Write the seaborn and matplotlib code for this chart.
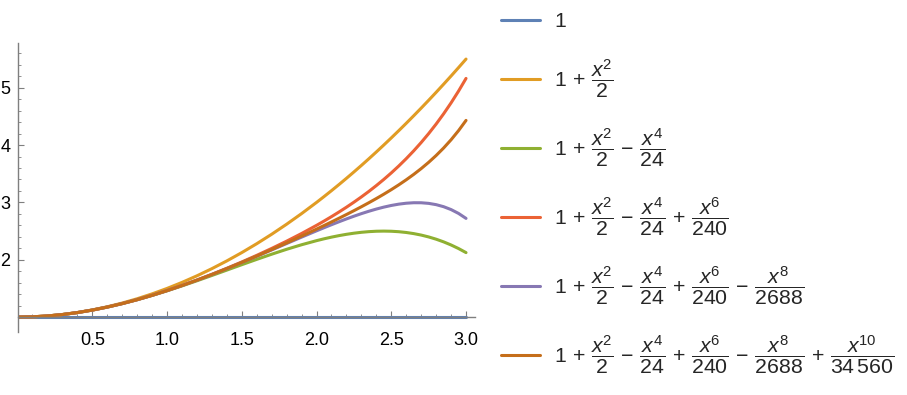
import pandas as pd
import matplotlib
matplotlib.use("Agg")
import matplotlib.pyplot as plt
import seaborn as sns
from matplotlib.ticker import MultipleLocator, FixedLocator

sns.set_style("ticks")
plt.rcParams["font.family"] = ["Liberation Sans", "DejaVu Sans"]
plt.rcParams["mathtext.fontset"] = "custom"
plt.rcParams["mathtext.rm"] = "Liberation Sans"
plt.rcParams["mathtext.it"] = "Liberation Sans:italic"

# ==================================
# DATA
# ==================================
X = [0.0, 0.1, 0.2, 0.3, 0.4, 0.5, 0.6, 0.7, 0.8, 0.9, 1.0,
     1.1, 1.2, 1.3, 1.4, 1.5, 1.6, 1.7, 1.8, 1.9,
     2.0, 2.05, 2.1, 2.15, 2.2, 2.25, 2.3, 2.35, 2.4, 2.45,
     2.5, 2.55, 2.6, 2.65, 2.7, 2.75, 2.8, 2.85, 2.9, 2.95, 3.0]

ORDER0 = [1.0] * 41

ORDER2 = [1.0, 1.005, 1.02, 1.045, 1.08, 1.125, 1.18, 1.245, 1.32, 1.405, 1.5,
          1.605, 1.72, 1.845, 1.98, 2.125, 2.28, 2.445, 2.62, 2.805,
          3.0, 3.1013, 3.205, 3.3113, 3.42, 3.5313, 3.645, 3.7613, 3.88, 4.0013,
          4.125, 4.2513, 4.38, 4.5113, 4.645, 4.7813, 4.92, 5.0613, 5.205, 5.3513, 5.5]

ORDER4 = [1.0, 1.005, 1.0199, 1.0447, 1.0789, 1.1224, 1.1746, 1.235, 1.3029, 1.3777, 1.4583,
          1.544, 1.6336, 1.726, 1.8199, 1.9141, 2.0069, 2.097, 2.1826, 2.262,
          2.3333, 2.3654, 2.3947, 2.4209, 2.4439, 2.4634, 2.479, 2.4905, 2.4976, 2.5,
          2.4974, 2.4895, 2.4759, 2.4564, 2.4307, 2.3983, 2.3589, 2.3123, 2.258, 2.1957, 2.125]

ORDER6 = [1.0, 1.005, 1.0199, 1.0447, 1.0789, 1.1225, 1.1748, 1.2355, 1.304, 1.3799, 1.4625,
          1.5514, 1.646, 1.7461, 1.8513, 1.9615, 2.0768, 2.1976, 2.3243, 2.458,
          2.6, 2.6746, 2.752, 2.8325, 2.9163, 3.004, 3.0958, 3.1923, 3.2939, 3.4011,
          3.5146, 3.6351, 3.7631, 3.8994, 4.0449, 4.2004, 4.3668, 4.5451, 4.7364, 4.9418, 5.1625]

ORDER8 = [1.0, 1.005, 1.0199, 1.0447, 1.0789, 1.1225, 1.1748, 1.2355, 1.304, 1.3797, 1.4621,
          1.5506, 1.6444, 1.7431, 1.8458, 1.952, 2.0609, 2.1716, 2.2833, 2.3948,
          2.5048, 2.5586, 2.6113, 2.6626, 2.7122, 2.7596, 2.8045, 2.8462, 2.8844, 2.9182,
          2.947, 2.97, 2.9862, 2.9947, 2.9942, 2.9836, 2.9613, 2.9258, 2.8754, 2.808, 2.7217]

ORDER10 = [1.0, 1.005, 1.0199, 1.0447, 1.0789, 1.1225, 1.1748, 1.2355, 1.304, 1.3798, 1.4622,
           1.5507, 1.6446, 1.7435, 1.8466, 1.9537, 2.064, 2.1775, 2.2937, 2.4126,
           2.5344, 2.5965, 2.6596, 2.7237, 2.789, 2.8558, 2.9244, 2.9949, 3.0678, 3.1436,
           3.2229, 3.3063, 3.3947, 3.4888, 3.59, 3.6993, 3.8183, 3.9488, 4.0927, 4.2523, 4.4303]

TERMS = [r"\dfrac{x^2}{2}", r"\dfrac{x^4}{24}", r"\dfrac{x^6}{240}",
         r"\dfrac{x^8}{2688}", r"\dfrac{x^{10}}{34\,560}"]
SIGNS = ["+", "-", "+", "-", "+"]

COLORS = ["#5E81B5", "#E19C24", "#8FB032", "#EB6235", "#8778B3", "#C56E1A"]

SERIES = [ORDER0, ORDER2, ORDER4, ORDER6, ORDER8, ORDER10]

# legend labels: partial sums of the terms
LABELS = []
for n in range(len(SERIES)):
    body = "1"
    for k in range(n):
        body += r"\," + SIGNS[k] + r"\," + TERMS[k]
    LABELS.append("$" + body + "$")

# ==================================
# BUILD TABLE
# ==================================
frames = []
for i, ys in enumerate(SERIES):
    frames.append(pd.DataFrame({"x": X, "y": ys, "order": i}))
df = pd.concat(frames, ignore_index=True)

# ==================================
# PLOT
# ==================================
fig = plt.figure(figsize=(9.07, 3.95), dpi=100)
ax = fig.add_axes([0.0193, 0.1603, 0.5044, 0.7308])

sns.lineplot(
    data=df,
    x="x",
    y="y",
    hue="order",
    palette=COLORS,
    linewidth=2.2,
    sort=False,
    legend=False,
    ax=ax
)

ax.set_xlim(0, 3.06)
ax.set_ylim(0.746, 5.78)

ax.spines["top"].set_visible(False)
ax.spines["right"].set_visible(False)
ax.spines["bottom"].set_position(("data", 1))
for side in ["left", "bottom"]:
    ax.spines[side].set_color("#7f7f7f")
    ax.spines[side].set_linewidth(1.0)

ax.xaxis.set_major_locator(FixedLocator([0.5, 1.0, 1.5, 2.0, 2.5, 3.0]))
ax.xaxis.set_minor_locator(MultipleLocator(0.1))
ax.yaxis.set_major_locator(FixedLocator([2, 3, 4, 5]))
ax.yaxis.set_minor_locator(FixedLocator([v / 5 for v in range(6, 29) if v % 5 != 0]))
ax.xaxis.set_major_formatter(plt.FuncFormatter(lambda v, p: f"{v:.1f}"))

ax.tick_params(axis="both", which="both", direction="in", color="#7f7f7f",
               labelsize=13, labelcolor="black")
ax.tick_params(axis="both", which="major", length=4, width=0.8)
ax.tick_params(axis="both", which="minor", length=2, width=0.6)
ax.tick_params(axis="x", which="major", pad=11)
ax.tick_params(axis="y", which="major", pad=5)
ax.set_xlabel("")
ax.set_ylabel("")

handles = ax.get_lines()[:len(LABELS)]
fig.legend(
    handles,
    LABELS,
    loc="upper left",
    bbox_to_anchor=(0.552, 0.969),
    frameon=False,
    fontsize=15.3,
    handlelength=1.84,
    handletextpad=0.66,
    labelspacing=1.24,
    borderpad=0,
    borderaxespad=0
)
for line in fig.legends[0].get_lines():
    line.set_linewidth(2.2)

fig.savefig("out.png", dpi=100)
